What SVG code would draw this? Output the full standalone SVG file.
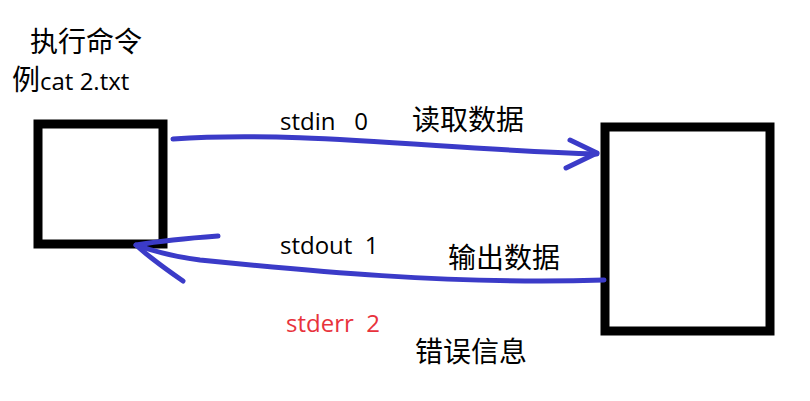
<svg xmlns="http://www.w3.org/2000/svg" width="810" height="401" viewBox="0 0 810 401">
<style>
.box{fill:none;stroke:#000;stroke-width:9}
.c{fill:none;stroke:#3b3bc8;stroke-width:5;stroke-linecap:round;stroke-linejoin:round}
text{font-family:"Open Sans","Noto Sans CJK SC",sans-serif;font-size:24px;fill:#000}
.z{font-size:28px;font-family:"Noto Sans CJK SC",sans-serif}
.r{fill:#e8323c}
</style>
<rect width="810" height="401" fill="#fff"/>
<g id="left"><rect class="box" x="38" y="124" width="125" height="120"/></g>
<g id="right"><rect class="box" x="605" y="127" width="165" height="204"/></g>
<g id="connectors">
<path class="c" d="M173,139 C300,130 450,150 597,154"/>
<path class="c" d="M570,140 L597,153 L566,168"/>
<path class="c" d="M604,280 C450,285 300,270 200,260 C170,256 150,250 136,245"/>
<path class="c" d="M218,236 C190,238 160,241 136,245 C150,258 170,272 183,281"/>
</g>
<text class="z" x="30" y="52">执行命令</text>
<text x="12" y="90"><tspan class="z">例</tspan>cat 2.txt</text>
<text x="280" y="130" xml:space="preserve">stdin   0</text>
<text class="z" x="412" y="130">读取数据</text>
<text x="280" y="254" xml:space="preserve">stdout  1</text>
<text class="z" x="448" y="268">输出数据</text>
<text class="r" x="286" y="332" xml:space="preserve">stderr  2</text>
<text class="z" x="415" y="362">错误信息</text>
</svg>
